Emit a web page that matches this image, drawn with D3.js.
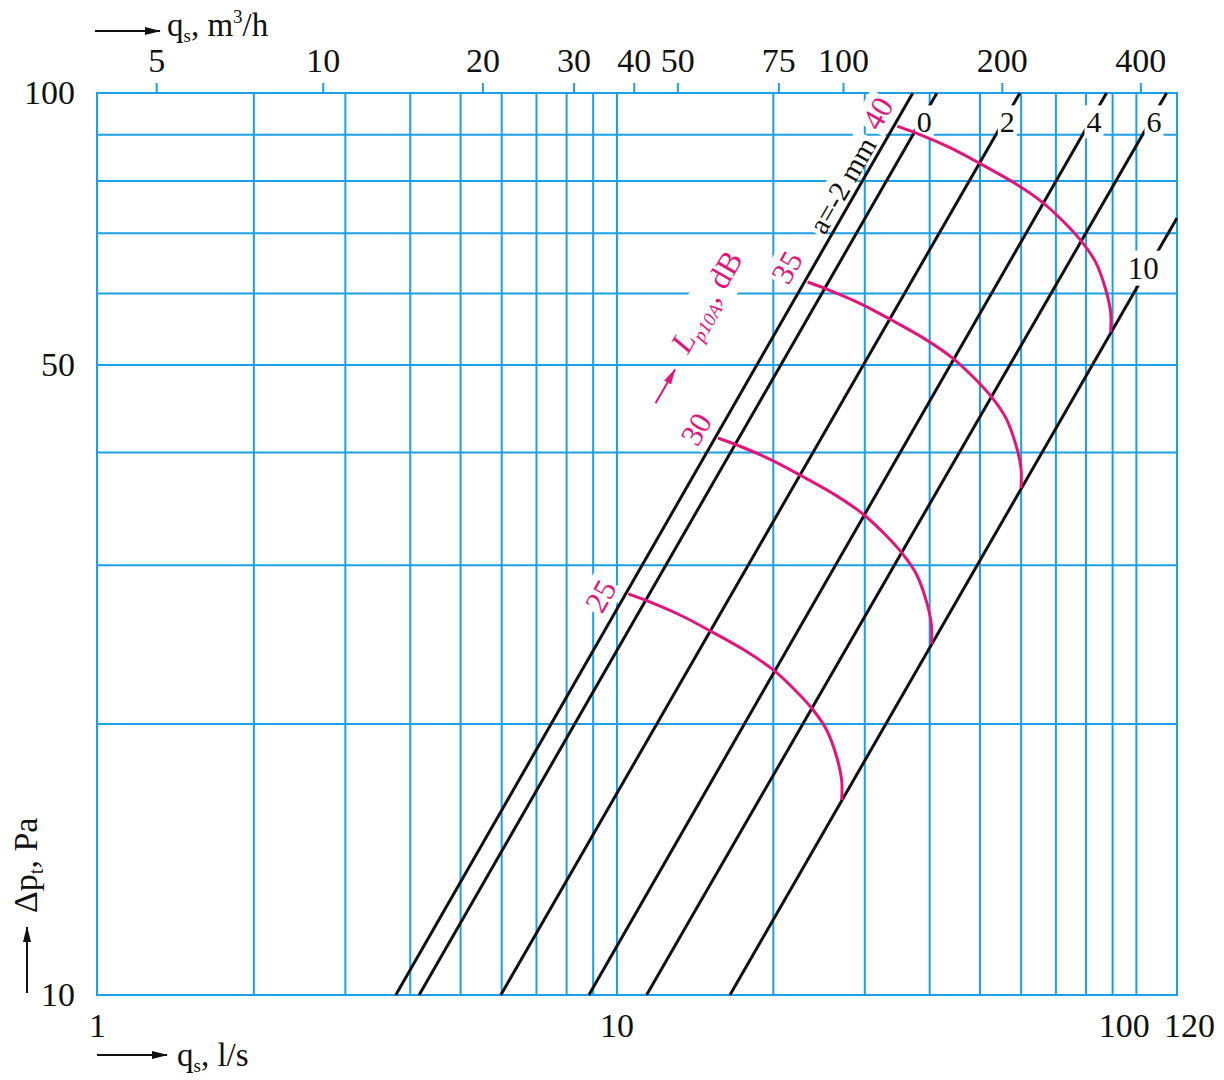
<!DOCTYPE html>
<html>
<head>
<meta charset="utf-8">
<script src="https://cdn.jsdelivr.net/npm/d3@7"></script>
<style>
  body { margin: 0; background: #fff; }
  svg { display: block; font-family: "Liberation Serif", "Times New Roman", serif; }
</style>
</head>
<body>
<svg id="chart" width="1224" height="1080"></svg>
<script>
// grid and tick values
var xGrid = [2, 3, 4, 5, 6, 7, 8, 9, 10, 20, 30, 40, 50, 60, 70, 80, 90, 100];
var yGrid = [20, 30, 40, 50, 60, 70, 80, 90];
var xTicks = [1, 10, 100, 120];
var yTicks = [10, 50, 100];

// top axis in m3/h, placed where the original drawing puts them (in l/s)
var topLabels = [5, 10, 20, 30, 40, 50, 75, 100, 200, 400];
var topAt = [1.30, 2.72, 5.52, 8.27, 10.8, 13.1, 20.5, 27.3, 55.2, 102];

// roughness lines a (mm): q at the two ends and dp at the two ends
var roughness = ["a=-2 mm", "0", "2", "4", "6", "10"];
var lineQ = [[3.76, 37.2], [4.17, 41.4], [5.99, 59.8], [8.85, 87.8], [11.43, 114.6], [16.54, 120]];
var lineDp = [[10, 100], [10, 100], [10, 100], [10, 100], [10, 100], [10, 72.7]];

// sound level curves Lp10A, dB
var levels = [25, 30, 35, 40];
var curveQ = [
    [10.54, 11.43, 13.25, 15.25, 17.81, 20.04, 22.23, 23.92, 25.39, 26.54, 27.14, 27.14],
    [15.68, 17.01, 19.72, 22.69, 26.50, 29.82, 33.08, 35.59, 37.78, 39.49, 40.38, 40.38],
    [23.33, 25.31, 29.34, 33.76, 39.43, 44.37, 49.22, 52.96, 56.22, 58.76, 60.09, 60.09],
    [34.72, 37.66, 43.66, 50.23, 58.67, 66.02, 73.24, 78.80, 83.66, 87.43, 89.41, 89.41]
];
var curveDp = [
    [27.84, 27.36, 26.38, 25.28, 24.03, 22.93, 21.69, 20.70, 19.67, 18.37, 17.31, 16.45],
    [41.45, 40.74, 39.28, 37.64, 35.78, 34.14, 32.30, 30.82, 29.29, 27.35, 25.77, 24.49],
    [61.72, 60.66, 58.49, 56.05, 53.28, 50.83, 48.09, 45.89, 43.61, 40.72, 38.37, 36.46],
    [91.90, 90.32, 87.09, 83.46, 79.33, 75.69, 71.61, 68.33, 64.94, 60.63, 57.13, 54.29]
];

var blue = "#1c9fe4", red = "#e2167a", ink = "#111";

var svg = d3.select("#chart");
var margin = {top: 93, left: 97};
var width = 1080, height = 902;

var x = d3.scaleLog().domain([1, 120]).range([margin.left, margin.left + width]);
var y = d3.scaleLog().domain([10, 100]).range([margin.top + height, margin.top]);

var defs = svg.append("defs");
function marker(id, col) {
    defs.append("marker")
        .attr("id", id)
        .attr("markerUnits", "userSpaceOnUse")
        .attr("markerWidth", 16).attr("markerHeight", 10)
        .attr("refX", 15).attr("refY", 5)
        .attr("orient", "auto")
      .append("path")
        .attr("d", "M0,1 L16,5 L0,9 Z")
        .attr("fill", col);
}
marker("ahBlack", ink);
marker("ahRed", red);

var gridLayer = svg.append("g");
var lineLayer = svg.append("g");
var bgLayer = svg.append("g");
var curveLayer = svg.append("g");
var textLayer = svg.append("g");

// grid
gridLayer.append("g")
    .attr("transform", "translate(0," + y(10) + ")")
    .call(d3.axisBottom(x).tickValues(xGrid).tickSize(-height).tickFormat(""));
gridLayer.append("g")
    .attr("transform", "translate(" + x(1) + ",0)")
    .call(d3.axisLeft(y).tickValues(yGrid).tickSize(-width).tickFormat(""));
gridLayer.selectAll(".domain").remove();
gridLayer.selectAll("line").attr("stroke", blue).attr("stroke-width", 2);
gridLayer.append("rect")
    .attr("x", x(1)).attr("y", y(100))
    .attr("width", x(120) - x(1)).attr("height", y(10) - y(100))
    .attr("fill", "none").attr("stroke", blue).attr("stroke-width", 2);

// axes
var topAxis = svg.append("g")
    .attr("transform", "translate(0," + y(100) + ")")
    .call(d3.axisTop(x).tickValues(topAt).tickSize(10).tickPadding(11)
        .tickFormat(function(d, i) { return topLabels[i]; }));
topAxis.select(".domain").remove();
topAxis.selectAll("line").attr("stroke", blue).attr("stroke-width", 2);

var bottomAxis = svg.append("g")
    .attr("transform", "translate(0," + y(10) + ")")
    .call(d3.axisBottom(x).tickValues(xTicks).tickSize(0).tickPadding(18)
        .tickFormat(function(d) { return d; }));
bottomAxis.select(".domain").remove();
bottomAxis.selectAll("text")
    .attr("dx", function(d) { return d === 100 ? -12 : (d === 120 ? 12 : 0); });

var leftAxis = svg.append("g")
    .attr("transform", "translate(" + x(1) + ",0)")
    .call(d3.axisLeft(y).tickValues(yTicks).tickSize(0).tickPadding(22)
        .tickFormat(function(d) { return d; }));
leftAxis.select(".domain").remove();

[topAxis, bottomAxis, leftAxis].forEach(function(a) {
    a.attr("font-family", null).attr("font-size", 34);
    a.selectAll("text").attr("fill", ink);
});

// roughness lines
var line = d3.line().x(function(d) { return x(d[0]); }).y(function(d) { return y(d[1]); });
roughness.forEach(function(name, i) {
    var pts = [[lineQ[i][0], lineDp[i][0]], [lineQ[i][1], lineDp[i][1]]];
    lineLayer.append("path")
        .attr("d", line(pts))
        .attr("fill", "none")
        .attr("stroke", ink)
        .attr("stroke-width", 3);
});

// sound level curves
var curve = d3.line().curve(d3.curveCatmullRom.alpha(0.5))
    .x(function(d) { return x(d[0]); }).y(function(d) { return y(d[1]); });
levels.forEach(function(lv, i) {
    var pts = curveQ[i].map(function(q, j) { return [q, curveDp[i][j]]; });
    curveLayer.append("path")
        .attr("d", curve(pts))
        .attr("fill", "none")
        .attr("stroke", red)
        .attr("stroke-width", 3);
});

// label with white background that cuts the lines under it
function label(px, py, angle, build, pad, toBaseline) {
    var tr = "translate(" + px + "," + py + ") rotate(" + angle + ")";
    var g = textLayer.append("g").attr("transform", tr);
    var t = g.append("text");
    build(t);
    var b = t.node().getBBox();
    pad = pad == null ? 3 : pad;
    var top = b.y + 2 - pad;
    var bottom = toBaseline ? 0 : b.y + b.height - 2 + pad;
    bgLayer.append("rect")
        .attr("transform", tr)
        .attr("x", b.x - pad).attr("y", top)
        .attr("width", b.width + 2 * pad).attr("height", bottom - top)
        .attr("fill", "#fff");
    return g;
}

// point on roughness line i at a given dp (log interpolation)
function onLine(i, dp) {
    var l0 = Math.log10(lineDp[i][0]), l1 = Math.log10(lineDp[i][1]);
    var t = (Math.log10(dp) - l0) / (l1 - l0);
    var lq = Math.log10(lineQ[i][0]) + t * (Math.log10(lineQ[i][1]) - Math.log10(lineQ[i][0]));
    return [x(Math.pow(10, lq)), y(dp)];
}

var ang = Math.atan2(y(lineDp[0][1]) - y(lineDp[0][0]), x(lineQ[0][1]) - x(lineQ[0][0])) * 180 / Math.PI;

// a=-2 mm
var p = onLine(0, 69.4);
label(p[0] - 6, p[1], ang, function(t) {
    t.attr("font-size", 29).attr("fill", ink).text(roughness[0]);
}, 2, true);

// 0, 2, 4, 6 near the top, 10 on the last line
[1, 2, 3, 4].forEach(function(i) {
    var p = onLine(i, 92.9);
    label(p[0] + 4, p[1], 0, function(t) {
        t.attr("font-size", 30).attr("fill", ink).attr("text-anchor", "middle")
            .attr("dy", "0.35em").text(roughness[i]);
    }, 2);
});
p = onLine(5, 64);
label(p[0] - 5, p[1], 0, function(t) {
    t.attr("font-size", 31).attr("fill", ink).attr("text-anchor", "middle")
        .attr("dy", "0.35em").text(roughness[5]);
}, 2);

// level labels
var nudge = [[-28, 2], [-22, -9], [-21, -15], [-20, -13]];
levels.forEach(function(lv, i) {
    var px = x(curveQ[i][0]) + nudge[i][0], py = y(curveDp[i][0]) + nudge[i][1];
    label(px, py, -60, function(t) {
        t.attr("font-size", 31).attr("fill", red).attr("text-anchor", "middle")
            .attr("dy", "0.35em").text(lv);
    }, 2);
});

// L_p10A, dB
var lg = label(688, 355, -60, function(t) {
    t.attr("font-size", 32).attr("fill", red);
    t.append("tspan").attr("font-style", "italic").text("L");
    t.append("tspan").attr("font-style", "italic").attr("font-size", 19).attr("dy", 7).text("p10A");
    t.append("tspan").text(", dB").attr("dy", -7);
}, 3);
lg.append("line")
    .attr("x1", -58).attr("y1", -4).attr("x2", -19).attr("y2", -4)
    .attr("stroke", red).attr("stroke-width", 2)
    .attr("marker-end", "url(#ahRed)");

// axis titles
function qTitle(tx, ty, unitParts) {
    var t = textLayer.append("text").attr("x", tx).attr("y", ty)
        .attr("font-size", 33).attr("fill", ink);
    t.append("tspan").text("q");
    t.append("tspan").attr("font-size", 19).attr("dy", 6).text("s");
    unitParts(t);
}
qTitle(167, 36, function(t) {
    t.append("tspan").attr("dy", -6).text(", m");
    t.append("tspan").attr("font-size", 19).attr("dy", -13).text("3");
    t.append("tspan").attr("dy", 13).text("/h");
});
qTitle(177, 1066, function(t) {
    t.append("tspan").attr("dy", -6).text(", l/s");
});

var yt = textLayer.append("text")
    .attr("transform", "translate(37,913) rotate(-90)")
    .attr("font-size", 34).attr("fill", ink);
yt.append("tspan").text("\u0394p");
yt.append("tspan").attr("font-size", 20).attr("dy", 6).text("t");
yt.append("tspan").attr("dy", -6).text(", Pa");

// arrows next to the titles
function arrow(x1, y1, x2, y2) {
    textLayer.append("line")
        .attr("x1", x1).attr("y1", y1).attr("x2", x2).attr("y2", y2)
        .attr("stroke", ink).attr("stroke-width", 2)
        .attr("marker-end", "url(#ahBlack)");
}
arrow(95, 31, 160, 31);
arrow(97, 1055, 167, 1055);
arrow(27, 993, 27, 927);
</script>
</body>
</html>
